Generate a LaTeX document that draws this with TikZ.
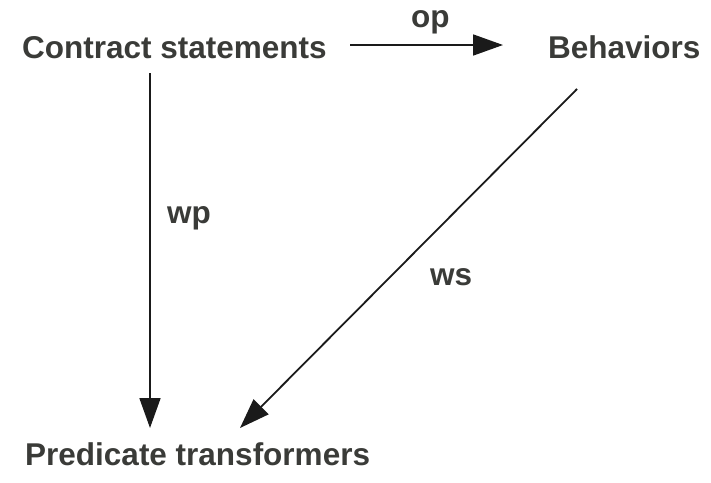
\documentclass[tikz,border=0pt]{standalone}
\usepackage{fontspec}
\setmainfont{Liberation Sans}
\usetikzlibrary{arrows.meta}
\definecolor{labelgray}{HTML}{3A3B38}
\definecolor{linegray}{HTML}{1A1A1A}
\begin{document}
\begin{tikzpicture}[x=1pt,y=-1pt,
  term/.style={inner sep=0pt,anchor=base west,text=labelgray,
    font=\fontsize{31.5}{36}\selectfont\bfseries},
  maparrow/.style={draw=linegray,line width=1.8pt,
    -{Triangle[length=30pt,width=21pt]}}]
  \useasboundingbox (0,0) rectangle (711,482);

  % objects
  \node[term] (cs) at (22,58) {Contract statements};
  \node[term] (bh) at (548,58) {Behaviors};
  \node[term] (pt) at (25,465) {Predicate transformers};

  % arrow end points
  \coordinate (opS) at (350,45);
  \coordinate (opE) at (503,45);
  \coordinate (wpS) at (150,73);
  \coordinate (wpE) at (150,428);
  \coordinate (wsS) at (577,89);
  \coordinate (wsE) at (240,428);

  % mappings
  \draw[maparrow] (opS) -- (opE);
  \draw[maparrow] (wpS) -- (wpE);
  \draw[maparrow] (wsS) -- (wsE);

  % mapping names
  \node[term] (op) at (411,27) {op};
  \node[term] (wp) at (167,223) {wp};
  \node[term] (ws) at (430,285) {ws};
\end{tikzpicture}
\end{document}
